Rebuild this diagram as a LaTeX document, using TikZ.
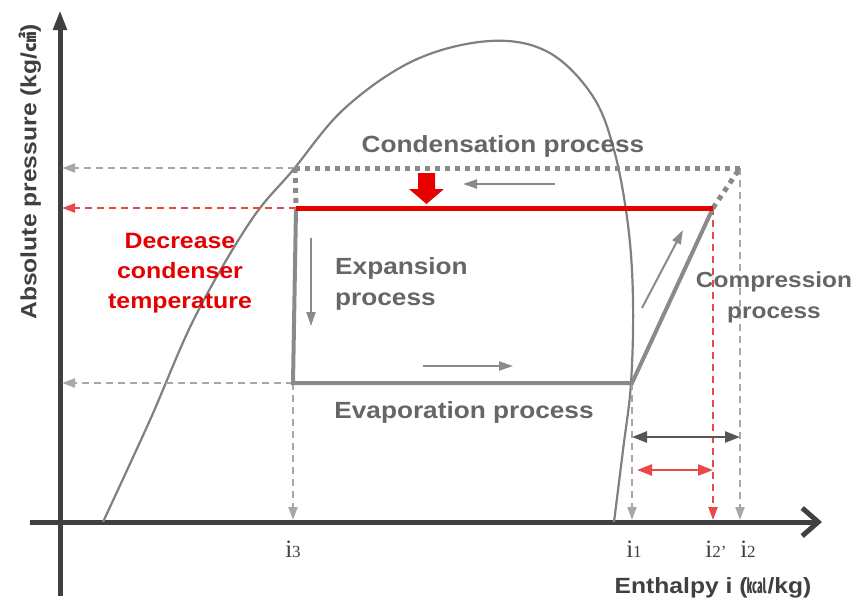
\documentclass[tikz,border=0pt]{standalone}
\usepackage{fontspec}
\setmainfont{Liberation Sans}[FakeStretch=1.12]
\newfontfamily\serifont{Liberation Serif}
\newfontfamily\cjk{Noto Sans CJK KR}
\usetikzlibrary{arrows.meta}
\definecolor{axisc}{HTML}{404040}
\definecolor{domec}{HTML}{808080}
\definecolor{cyc}{HTML}{8A8A8A}
\definecolor{txtc}{HTML}{666666}
\definecolor{redc}{HTML}{E60000}
\definecolor{redd}{HTML}{E84848}
\definecolor{dashg}{HTML}{A8A8A8}
\definecolor{dblc}{HTML}{555555}
\tikzset{
  axisline/.style={draw=axisc, line width=5pt},
  domeline/.style={draw=domec, line width=2.2pt},
  cycline/.style={draw=cyc, line width=4pt},
  dotline/.style={draw=cyc, line width=5pt, dash pattern=on 5pt off 5pt},
  gdash/.style={draw=dashg, line width=2pt, dash pattern=on 7pt off 5pt, -{Triangle[width=9pt,length=13pt]}},
  rdash/.style={draw=redd, line width=2pt, dash pattern=on 7pt off 5pt, -{Triangle[width=9pt,length=13pt]}},
  dirarrow/.style={draw=cyc, line width=2pt, -{Triangle[width=9pt,length=14pt]}},
  lbl/.style={text=txtc, font=\bfseries\fontsize{23.4}{31}\selectfont, align=center, inner sep=0pt},
  redlbl/.style={text=redc, font=\bfseries\fontsize{22.2}{30}\selectfont, align=center, inner sep=0pt},
  ilbl/.style={text=axisc, inner sep=0pt, anchor=base},
}
\newcommand{\ilab}[1]{{\serifont\fontsize{25}{25}\selectfont i\fontsize{17}{17}\selectfont #1}}
\begin{document}
\begin{tikzpicture}[x=1pt,y=-1pt]
\useasboundingbox (0,0) rectangle (856,606);
% coordinates
\coordinate (yb) at (60,596);
\coordinate (yt) at (60,10);
\coordinate (xl) at (30,522);
\coordinate (xr) at (822,522);
\coordinate (A) at (295,168);   % old condensation left
\coordinate (B) at (740,168);   % old condensation right
\coordinate (C) at (296,208);   % new condensation left
\coordinate (D) at (713,208);   % new condensation right
\coordinate (E) at (293,383);   % evaporation left
\coordinate (F) at (632,383);   % evaporation right
\coordinate (yA) at (62,168);
\coordinate (yC) at (62,208);
\coordinate (yE) at (62,383);
\coordinate (x3) at (293,520);
\coordinate (x1) at (632,520);
\coordinate (x2p) at (713,520);
\coordinate (x2) at (740,520);
% axes
\draw[axisline, -{Triangle[width=13pt,length=20pt]}] (yb) -- (yt);
\draw[axisline, -{Straight Barb[length=16pt,width=28pt,line width=5pt]}] (xl) -- (xr);
% dome
\draw[domeline] plot[smooth, tension=0.6] coordinates {(103,522) (150,420) (195,317) (250,222) (293,170) (345,108) (415,60) (490,41) (548,52) (592,95) (614,150) (628,225) (633,300) (631,383) (623,450) (614,522)};
% dashed projections
\draw[gdash] (A) -- (yA);
\draw[rdash] (C) -- (yC);
\draw[gdash] (E) -- (yE);
\draw[gdash] (E) -- (x3);
\draw[gdash] (F) -- (x1);
\draw[rdash] (D) -- (x2p);
\draw[gdash] (B) -- (x2);
% old cycle (dotted)
\draw[dotline] (A) -- (B);
\draw[dotline] (A) -- (C);
\draw[dotline] (D) -- (B);
% new cycle
\draw[cycline] (C) -- (E) -- (F) -- (D);
\draw[draw=redc, line width=5pt] (C) -- (D);
% direction arrows
\coordinate (ca1) at (555,184); \coordinate (ca2) at (463,184);
\draw[dirarrow] (ca1) -- (ca2);
\coordinate (ea1) at (311,238); \coordinate (ea2) at (311,326);
\draw[dirarrow] (ea1) -- (ea2);
\coordinate (va1) at (423,366); \coordinate (va2) at (513,366);
\draw[dirarrow] (va1) -- (va2);
\coordinate (pa1) at (642,308); \coordinate (pa2) at (683,230);
\draw[dirarrow] (pa1) -- (pa2);
% red block arrow
\fill[redc] (418,173) -- (435,173) -- (435,189) -- (444,189) -- (426.5,204) -- (409,189) -- (418,189) -- cycle;
% double arrows
\coordinate (d1a) at (632,437); \coordinate (d1b) at (740,437);
\draw[draw=dblc, line width=2.5pt, {Triangle[width=11pt,length=15pt]}-{Triangle[width=11pt,length=15pt]}] (d1a) -- (d1b);
\coordinate (d2a) at (637,470); \coordinate (d2b) at (713,470);
\draw[draw=redd, line width=2.5pt, {Triangle[width=11pt,length=15pt]}-{Triangle[width=11pt,length=15pt]}] (d2a) -- (d2b);
% labels
\node[lbl] (cond) at (503,146) {Condensation process};
\node[lbl, align=left, anchor=west] (exp) at (335,284) {Expansion\\process};
\node[lbl] (evap) at (464,412) {Evaporation process};
\node[lbl, font=\bfseries\fontsize{21.8}{31}\selectfont] (comp) at (774,297) {Compression\\process};
\node[redlbl] (decr) at (180,273) {Decrease\\condenser\\temperature};
\node[text=axisc, font=\bfseries\fontsize{22}{26}\selectfont, rotate=90, inner sep=0pt] (ylab) at (30,172) {Absolute pressure (kg/{\cjk\fontsize{20}{20}\selectfont ㎠})};
\node[text=axisc, font=\bfseries\fontsize{22}{26}\selectfont, inner sep=0pt] (xlab) at (713,588) {Enthalpy i ({\cjk\fontsize{20}{20}\selectfont ㎉}/kg)};
\node[ilbl] (i3) at (293,557) {\ilab{3}};
\node[ilbl] (i1) at (634,557) {\ilab{1}};
\node[ilbl] (i2p) at (716,557) {\ilab{2’}};
\node[ilbl] (i2) at (748,557) {\ilab{2}};
\end{tikzpicture}
\end{document}
